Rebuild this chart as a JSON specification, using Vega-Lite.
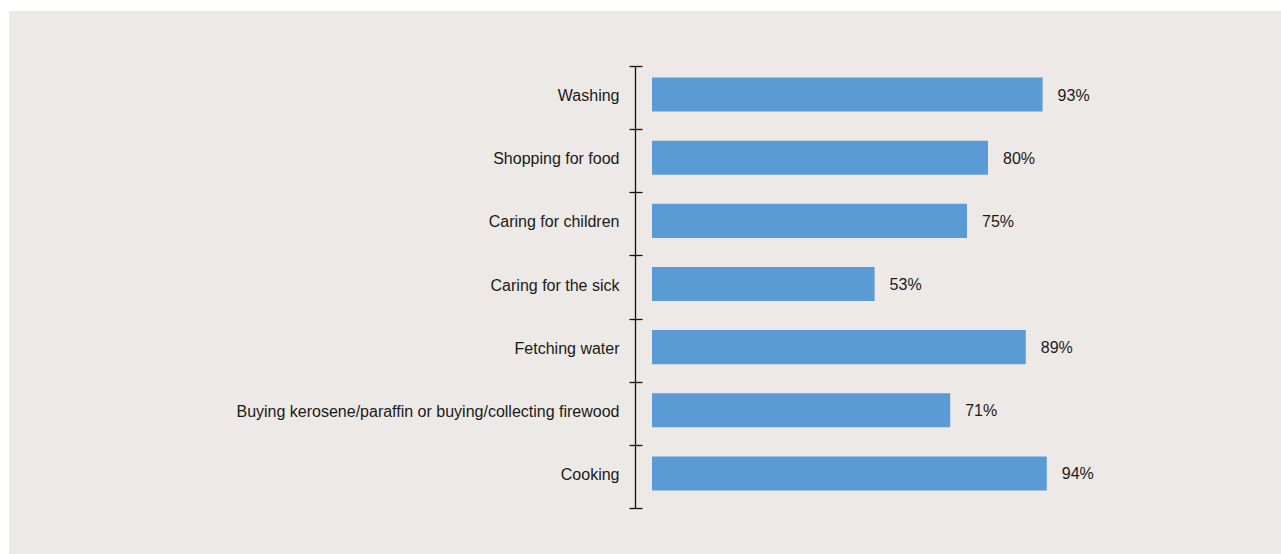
{
  "$schema": "https://vega.github.io/schema/vega-lite/v6.json",
  "autosize": {"type": "none"},
  "width": 1272,
  "height": 543,
  "padding": {"left": 9, "top": 11, "right": 0, "bottom": 0},
  "background": "#ffffff",
  "config": {
    "view": {"fill": "#EDE9E6", "stroke": null},
    "font": "Liberation Sans",
    "axis": {"labelFont": "Liberation Sans"}
  },
  "data": {
    "values": [
      {"activity": "Washing", "pct": 93, "label": "93%"},
      {"activity": "Shopping for food", "pct": 80, "label": "80%"},
      {"activity": "Caring for children", "pct": 75, "label": "75%"},
      {"activity": "Caring for the sick", "pct": 53, "label": "53%"},
      {"activity": "Fetching water", "pct": 89, "label": "89%"},
      {"activity": "Buying kerosene/paraffin or buying/collecting firewood", "pct": 71, "label": "71%"},
      {"activity": "Cooking", "pct": 94, "label": "94%"}
    ]
  },
  "encoding": {
    "y": {
      "field": "activity",
      "type": "nominal",
      "sort": null,
      "scale": {"range": [55, 497], "paddingInner": 0, "paddingOuter": 0}
    }
  },
  "layer": [
    {
      "mark": {"type": "bar", "color": "#5B9BD5", "height": {"band": 0.54}, "yOffset": -3},
      "encoding": {
        "x": {
          "field": "pct",
          "type": "quantitative",
          "scale": {"domain": [-153.095, 149.762], "nice": false, "zero": false},
          "axis": null
        },
        "x2": {"datum": 0},
        "y": {
          "field": "activity",
          "type": "nominal",
          "sort": null,
          "axis": {
            "orient": "left",
            "title": null,
            "offset": -626,
            "tickBand": "extent",
            "tickSize": 6,
            "tickWidth": 1.3,
            "tickColor": "#111111",
            "domainColor": "#111111",
            "domainWidth": 1.3,
            "labelPadding": 10,
            "labelOffset": -2,
            "labelFontSize": 16,
            "labelColor": "#1a1a1a",
            "labelLimit": 0
          }
        }
      }
    },
    {
      "mark": {"type": "text", "align": "left", "baseline": "middle", "dx": 15, "yOffset": -2, "fontSize": 16, "color": "#1a1a1a"},
      "encoding": {
        "x": {"field": "pct", "type": "quantitative"},
        "text": {"field": "label", "type": "nominal"},
        "y": {
          "field": "activity",
          "type": "nominal",
          "sort": null,
          "axis": {
            "orient": "right",
            "title": null,
            "offset": -646,
            "tickBand": "extent",
            "tickSize": 7,
            "tickWidth": 1.3,
            "tickColor": "#111111",
            "domain": false,
            "labels": false
          }
        }
      }
    }
  ]
}
